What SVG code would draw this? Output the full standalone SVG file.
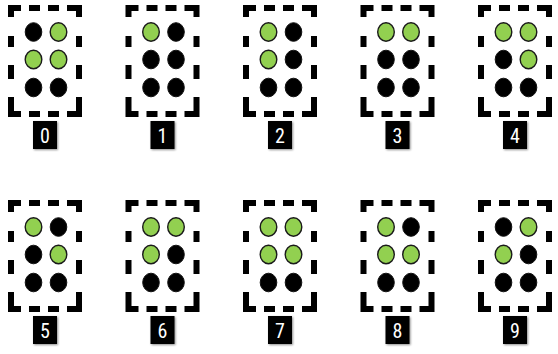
<svg xmlns="http://www.w3.org/2000/svg" xmlns:xlink="http://www.w3.org/1999/xlink" width="558" height="354" viewBox="0 0 558 354">
<defs>
<style>
.frame{fill:#000}
.dk{fill:#000;stroke:#111;stroke-width:1}
.gr{fill:#92D050;stroke:#1a1a1a;stroke-width:1.4}
.lbox{fill:#000;filter:url(#sh)}
.ltxt{fill:#fff;font-family:"Liberation Sans Narrow","Roboto Condensed","Liberation Sans",Arial,sans-serif;font-size:20px;text-anchor:middle}
</style>
<filter id="sh" x="-30%" y="-30%" width="160%" height="160%">
<feGaussianBlur in="SourceAlpha" stdDeviation="1.2"/>
<feOffset dx="0.5" dy="0.5" result="b"/>
<feComponentTransfer><feFuncA type="linear" slope="0.45"/></feComponentTransfer>
<feMerge><feMergeNode/><feMergeNode in="SourceGraphic"/></feMerge>
</filter>
<g id="frame" class="frame">
<path d="M0,0H13V6H6V12H0Z"/>
<rect x="21" y="0" width="11" height="6"/>
<rect x="40" y="0" width="11" height="6"/>
<path d="M59,0H74V12H68V6H59Z"/>
<rect x="0" y="31" width="6" height="11"/>
<rect x="0" y="60" width="6" height="14"/>
<rect x="68" y="31" width="6" height="11"/>
<rect x="68" y="60" width="6" height="14"/>
<path d="M0,92H6V106H13V112H0Z"/>
<rect x="21" y="106" width="11" height="6"/>
<rect x="40" y="106" width="11" height="6"/>
<path d="M68,92H74V112H59V106H68Z"/>
</g>
</defs>

<g id="cell0" transform="translate(8,5)">
<use xlink:href="#frame"/>
<ellipse class="dk" cx="25.5" cy="27" rx="8.3" ry="9.3"/><ellipse class="gr" cx="50.5" cy="27" rx="8.3" ry="9.3"/>
<ellipse class="gr" cx="25.5" cy="54.5" rx="8.3" ry="9.3"/><ellipse class="gr" cx="50.5" cy="54.5" rx="8.3" ry="9.3"/>
<ellipse class="dk" cx="25.5" cy="82.5" rx="8.3" ry="9.3"/><ellipse class="dk" cx="50.5" cy="82.5" rx="8.3" ry="9.3"/>
<rect class="lbox" x="25" y="116" width="24" height="28"/><text class="ltxt" x="37" y="137.5">0</text>
</g>

<g id="cell1" transform="translate(125.5,5)">
<use xlink:href="#frame"/>
<ellipse class="gr" cx="25.5" cy="27" rx="8.3" ry="9.3"/><ellipse class="dk" cx="50.5" cy="27" rx="8.3" ry="9.3"/>
<ellipse class="dk" cx="25.5" cy="54.5" rx="8.3" ry="9.3"/><ellipse class="dk" cx="50.5" cy="54.5" rx="8.3" ry="9.3"/>
<ellipse class="dk" cx="25.5" cy="82.5" rx="8.3" ry="9.3"/><ellipse class="dk" cx="50.5" cy="82.5" rx="8.3" ry="9.3"/>
<rect class="lbox" x="25" y="116" width="24" height="28"/><text class="ltxt" x="37" y="137.5">1</text>
</g>

<g id="cell2" transform="translate(243,5)">
<use xlink:href="#frame"/>
<ellipse class="gr" cx="25.5" cy="27" rx="8.3" ry="9.3"/><ellipse class="dk" cx="50.5" cy="27" rx="8.3" ry="9.3"/>
<ellipse class="gr" cx="25.5" cy="54.5" rx="8.3" ry="9.3"/><ellipse class="dk" cx="50.5" cy="54.5" rx="8.3" ry="9.3"/>
<ellipse class="dk" cx="25.5" cy="82.5" rx="8.3" ry="9.3"/><ellipse class="dk" cx="50.5" cy="82.5" rx="8.3" ry="9.3"/>
<rect class="lbox" x="25" y="116" width="24" height="28"/><text class="ltxt" x="37" y="137.5">2</text>
</g>

<g id="cell3" transform="translate(360.5,5)">
<use xlink:href="#frame"/>
<ellipse class="gr" cx="25.5" cy="27" rx="8.3" ry="9.3"/><ellipse class="gr" cx="50.5" cy="27" rx="8.3" ry="9.3"/>
<ellipse class="dk" cx="25.5" cy="54.5" rx="8.3" ry="9.3"/><ellipse class="dk" cx="50.5" cy="54.5" rx="8.3" ry="9.3"/>
<ellipse class="dk" cx="25.5" cy="82.5" rx="8.3" ry="9.3"/><ellipse class="dk" cx="50.5" cy="82.5" rx="8.3" ry="9.3"/>
<rect class="lbox" x="25" y="116" width="24" height="28"/><text class="ltxt" x="37" y="137.5">3</text>
</g>

<g id="cell4" transform="translate(478,5)">
<use xlink:href="#frame"/>
<ellipse class="gr" cx="25.5" cy="27" rx="8.3" ry="9.3"/><ellipse class="gr" cx="50.5" cy="27" rx="8.3" ry="9.3"/>
<ellipse class="dk" cx="25.5" cy="54.5" rx="8.3" ry="9.3"/><ellipse class="gr" cx="50.5" cy="54.5" rx="8.3" ry="9.3"/>
<ellipse class="dk" cx="25.5" cy="82.5" rx="8.3" ry="9.3"/><ellipse class="dk" cx="50.5" cy="82.5" rx="8.3" ry="9.3"/>
<rect class="lbox" x="25" y="116" width="24" height="28"/><text class="ltxt" x="37" y="137.5">4</text>
</g>

<g id="cell5" transform="translate(8,200)">
<use xlink:href="#frame"/>
<ellipse class="gr" cx="25.5" cy="27" rx="8.3" ry="9.3"/><ellipse class="dk" cx="50.5" cy="27" rx="8.3" ry="9.3"/>
<ellipse class="dk" cx="25.5" cy="54.5" rx="8.3" ry="9.3"/><ellipse class="gr" cx="50.5" cy="54.5" rx="8.3" ry="9.3"/>
<ellipse class="dk" cx="25.5" cy="82.5" rx="8.3" ry="9.3"/><ellipse class="dk" cx="50.5" cy="82.5" rx="8.3" ry="9.3"/>
<rect class="lbox" x="25" y="116" width="24" height="28"/><text class="ltxt" x="37" y="137.5">5</text>
</g>

<g id="cell6" transform="translate(125.5,200)">
<use xlink:href="#frame"/>
<ellipse class="gr" cx="25.5" cy="27" rx="8.3" ry="9.3"/><ellipse class="gr" cx="50.5" cy="27" rx="8.3" ry="9.3"/>
<ellipse class="gr" cx="25.5" cy="54.5" rx="8.3" ry="9.3"/><ellipse class="dk" cx="50.5" cy="54.5" rx="8.3" ry="9.3"/>
<ellipse class="dk" cx="25.5" cy="82.5" rx="8.3" ry="9.3"/><ellipse class="dk" cx="50.5" cy="82.5" rx="8.3" ry="9.3"/>
<rect class="lbox" x="25" y="116" width="24" height="28"/><text class="ltxt" x="37" y="137.5">6</text>
</g>

<g id="cell7" transform="translate(243,200)">
<use xlink:href="#frame"/>
<ellipse class="gr" cx="25.5" cy="27" rx="8.3" ry="9.3"/><ellipse class="gr" cx="50.5" cy="27" rx="8.3" ry="9.3"/>
<ellipse class="gr" cx="25.5" cy="54.5" rx="8.3" ry="9.3"/><ellipse class="gr" cx="50.5" cy="54.5" rx="8.3" ry="9.3"/>
<ellipse class="dk" cx="25.5" cy="82.5" rx="8.3" ry="9.3"/><ellipse class="dk" cx="50.5" cy="82.5" rx="8.3" ry="9.3"/>
<rect class="lbox" x="25" y="116" width="24" height="28"/><text class="ltxt" x="37" y="137.5">7</text>
</g>

<g id="cell8" transform="translate(360.5,200)">
<use xlink:href="#frame"/>
<ellipse class="gr" cx="25.5" cy="27" rx="8.3" ry="9.3"/><ellipse class="dk" cx="50.5" cy="27" rx="8.3" ry="9.3"/>
<ellipse class="gr" cx="25.5" cy="54.5" rx="8.3" ry="9.3"/><ellipse class="gr" cx="50.5" cy="54.5" rx="8.3" ry="9.3"/>
<ellipse class="dk" cx="25.5" cy="82.5" rx="8.3" ry="9.3"/><ellipse class="dk" cx="50.5" cy="82.5" rx="8.3" ry="9.3"/>
<rect class="lbox" x="25" y="116" width="24" height="28"/><text class="ltxt" x="37" y="137.5">8</text>
</g>

<g id="cell9" transform="translate(478,200)">
<use xlink:href="#frame"/>
<ellipse class="dk" cx="25.5" cy="27" rx="8.3" ry="9.3"/><ellipse class="gr" cx="50.5" cy="27" rx="8.3" ry="9.3"/>
<ellipse class="gr" cx="25.5" cy="54.5" rx="8.3" ry="9.3"/><ellipse class="dk" cx="50.5" cy="54.5" rx="8.3" ry="9.3"/>
<ellipse class="dk" cx="25.5" cy="82.5" rx="8.3" ry="9.3"/><ellipse class="dk" cx="50.5" cy="82.5" rx="8.3" ry="9.3"/>
<rect class="lbox" x="25" y="116" width="24" height="28"/><text class="ltxt" x="37" y="137.5">9</text>
</g>
</svg>
